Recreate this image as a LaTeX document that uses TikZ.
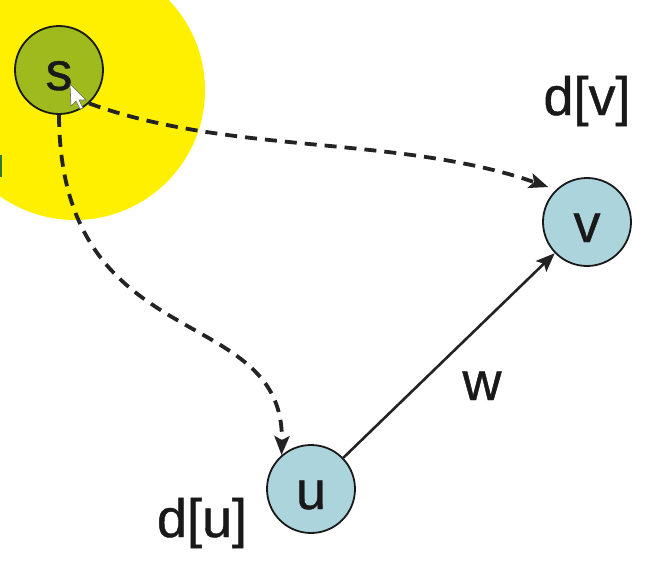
\documentclass[tikz,border=0pt]{standalone}
\usepackage{fontspec}
\setmainfont{Liberation Sans}
\newfontfamily\labfont[FakeBold=0.8]{Liberation Sans}
\usetikzlibrary{arrows.meta}
\definecolor{hl}{RGB}{255,240,0}
\definecolor{sgreen}{RGB}{158,186,28}
\definecolor{ublue}{RGB}{172,212,221}
\definecolor{edgecol}{RGB}{35,35,35}
\definecolor{sliver}{RGB}{50,120,50}
\begin{document}
\begin{tikzpicture}[x=1pt,y=-1pt,
  vert/.style={circle, draw=black!90, line width=1.8pt, minimum size=88pt, inner sep=0pt,
    font=\labfont\fontsize{54}{60}\selectfont, text height=40pt, text depth=0pt, text=black!90},
  lab/.style={font=\labfont\fontsize{54}{60}\selectfont, anchor=base, inner sep=0pt, text=black!90},
  tipstyle/.style={-{Stealth[length=19pt,width=15pt,inset=4pt]}},
  dashedge/.style={tipstyle, draw=edgecol, line width=3.8pt, dash pattern=on 12pt off 8pt},
  solidedge/.style={tipstyle, draw=edgecol, line width=2.6pt}]
\useasboundingbox (0,0) rectangle (672,562);
\clip (0,0) rectangle (672,562);
\fill[hl] (75,90) circle (130pt);
\fill[sliver] (0,155) rectangle (2,177);
\node[vert, fill=sgreen] (s) at (59,70) {s};
\node[vert, fill=ublue] (v) at (587,222) {v};
\node[vert, fill=ublue] (u) at (311,489) {u};
\draw[dashedge] (s.-90) .. controls (60,360) and (285,300) .. (u.131);
\draw[dashedge, shorten >=8pt] (s.-48) .. controls (230,155) and (400,135) .. (v.134);
\draw[solidedge] (u) -- (v);
\node[lab] (dv) at (587,115) {d[v]};
\node[lab] (du) at (202,537) {d[u]};
\node[lab] (w) at (482,400) {w};
\fill[white, draw=black!60, line width=0.6pt] (70,84) -- (71,106) -- (76,101) -- (80,109) -- (83,108) -- (79,100) -- (86,100) -- cycle;
\end{tikzpicture}
\end{document}
